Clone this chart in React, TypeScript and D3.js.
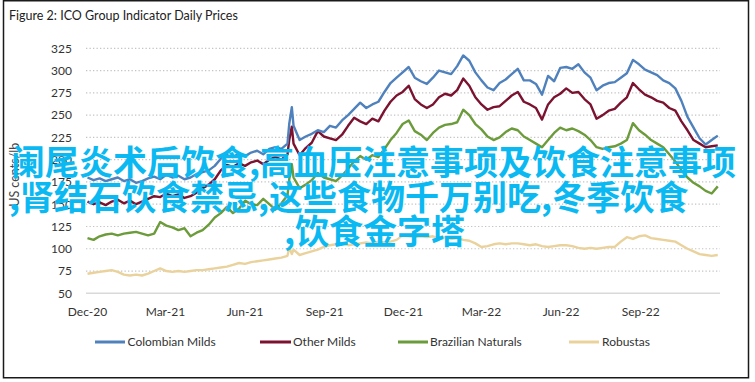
import React from "react";
import * as d3 from "d3";

const seriesNames = ["Colombian Milds", "Other Milds", "Brazilian Naturals", "Robustas"];
const seriesColors = ["#4F81BD", "#7A1230", "#6B9B3A", "#EAD29C"];

const startDate = "2020-12-01";
const weeksCount = 105;
const spikeDates = ["2021-07-22", "2021-07-25"];
const spikeAfterWeek = 33;

const colombianMilds = [
  180,177,179,176,178,180,176,178,174,176,179,181,178,183,180,182,178,180,184,186,
  188,193,201,205,203,207,204,208,210,206,212,214,212,218,
  240,259,
  238,222,226,229,233,231,238,236,244,250,
  257,264,258,262,265,276,286,292,298,304,
  292,288,285,292,300,298,296,305,317,311,
  298,289,281,278,286,290,296,302,289,289,
  285,273,294,288,303,304,302,307,298,292,
  278,283,286,287,292,297,312,307,301,298,
  295,289,286,280,266,248,236,224,217,222,227,
];
const otherMilds = [
  153,150,152,149,153,155,151,154,150,153,156,159,158,162,159,161,157,159,163,168,
  172,178,188,194,192,196,193,197,199,195,200,203,200,206,
  222,237,
  218,205,213,219,232,226,224,222,228,238,
  247,243,240,246,243,255,265,272,276,283,
  268,262,258,262,270,274,272,278,291,283,
  270,262,256,259,260,266,272,276,265,262,
  258,245,262,270,274,280,275,276,268,262,
  246,250,255,257,264,270,286,279,273,270,
  266,264,258,255,243,233,222,218,214,215,216,
];
const brazilianNaturals = [
  112,110,114,116,117,115,117,118,119,117,115,117,130,126,124,121,123,114,118,121,
  127,135,140,147,140,145,154,150,149,156,150,144,151,160,
  178,195,
  180,168,172,177,185,180,178,176,182,190,
  198,204,200,205,203,212,222,230,240,244,
  232,228,222,230,236,239,240,242,256,250,
  240,234,226,222,225,231,235,233,226,222,
  218,214,222,230,236,233,235,232,228,222,
  214,212,214,215,218,222,241,233,228,222,
  218,214,206,198,188,180,174,170,165,162,170,
];
const robustas = [
  72,73,74,75,76,74,71,70,71,70,72,75,78,75,74,75,74,75,76,76,
  77,78,79,80,82,84,83,85,86,87,88,89,90,92,
  102,94,
  99,93,95,97,99,102,104,105,106,104,
  105,106,107,106,108,107,108,110,115,114,
  113,114,113,114,112,113,111,112,110,109,
  106,102,103,105,106,105,106,106,105,104,
  105,103,102,103,104,104,103,101,100,101,
  100,101,102,102,108,113,111,114,115,112,
  111,110,109,108,104,100,97,94,93,92,93,
];

const yTicks = [50, 75, 100, 125, 150, 175, 200, 225, 250, 275, 300, 325];
const xTickDates = ["2020-12-01", "2021-03-01", "2021-06-01", "2021-09-01", "2021-12-01", "2022-03-01", "2022-06-01", "2022-09-01"];
const xDomain = ["2020-12-01", "2022-12-01"];

const titleText = "Figure 2: ICO Group Indicator Daily Prices";
const yAxisTitle = "US cents/lb";
const watermarkLines = [
  "阑尾炎术后饮食,高血压注意事项及饮食注意事项",
  ",肾结石饮食禁忌,这些食物千万别吃,冬季饮食",
  ",饮食金字塔",
];

const parse = d3.timeParse("%Y-%m-%d");

export default function App() {
  const W = 755, H = 382;
  const left = 87.5, right = 719.5, top = 48.3, bottom = 293.3;

  const start = parse(startDate)!;
  const weekly = d3.range(weeksCount).map((i) => d3.timeDay.offset(start, 7 * i));
  const dates = [
    ...weekly.slice(0, spikeAfterWeek + 1),
    ...spikeDates.map((s) => parse(s)!),
    ...weekly.slice(spikeAfterWeek + 1),
  ];

  const x = d3.scaleTime().domain(xDomain.map((s) => parse(s)!)).range([left, right]);
  const y = d3.scaleLinear().domain([50, 325]).range([bottom, top]);
  const fmt = d3.timeFormat("%b-%y");

  const allSeries = [colombianMilds, otherMilds, brazilianNaturals, robustas];
  const line = d3
    .line<number>()
    .x((_, i) => x(dates[i]))
    .y((d) => y(d))
    .curve(d3.curveLinear);

  const legendLayout = [
    { x1: 95, x2: 125, tx: 127.5 },
    { x1: 260, x2: 291, tx: 293 },
    { x1: 398, x2: 428, tx: 430 },
    { x1: 569, x2: 599, tx: 602 },
  ];
  const legendY = 342;
  const labelFont = "Lato, 'Open Sans', sans-serif";

  return (
    <svg
      width={W}
      height={H}
      style={{ position: "absolute", left: 0, top: 0, background: "#fff" }}
      fontFamily={labelFont}
    >
      <rect x={0} y={0} width={W} height={H} fill="#fff" />
      <rect x={3.5} y={0.75} width={745} height={377} fill="none" stroke="#1a1a1a" strokeWidth={1.5} />
      <text x={9} y={19.5} fontSize={12.5} fill="#222">{titleText}</text>

      {yTicks.map((t) => (
        <g key={t}>
          <line
            x1={left - 1.5}
            x2={right + 0.5}
            y1={y(t)}
            y2={y(t)}
            stroke={t === 50 ? "#D9D9D9" : "#C4C4C4"}
            strokeWidth={t === 50 ? 1.5 : 1.2}
            strokeDasharray={t === 50 ? undefined : "1.3,2.2"}
          />
          <text x={72} y={y(t)} dy="0.36em" textAnchor="end" fontSize={12} fill="#333">
            {t}
          </text>
        </g>
      ))}

      {xTickDates.map((s) => (
        <text key={s} x={x(parse(s)!)} y={316} textAnchor="middle" fontSize={12} fill="#333">
          {fmt(parse(s)!)}
        </text>
      ))}

      <text
        transform={`translate(19,${(top + bottom) / 2 + 4}) rotate(-90)`}
        textAnchor="middle"
        fontSize={12.5}
        fill="#444"
      >
        {yAxisTitle}
      </text>

      {allSeries.map((vals, si) => (
        <path
          key={seriesNames[si]}
          d={line(vals) || ""}
          fill="none"
          stroke={seriesColors[si]}
          strokeWidth={2.4}
          strokeLinejoin="round"
        />
      )).reverse()}

      {seriesNames.map((n, i) => (
        <g key={n}>
          <line
            x1={legendLayout[i].x1}
            x2={legendLayout[i].x2}
            y1={legendY}
            y2={legendY}
            stroke={seriesColors[i]}
            strokeWidth={3}
          />
          <text x={legendLayout[i].tx} y={legendY} dy="0.36em" fontSize={12} fill="#333">
            {n}
          </text>
        </g>
      ))}

      <g fontFamily="'Noto Sans CJK SC', sans-serif" fontWeight={700} fontSize={34} fill="#0BB9F2">
        <text x={11} y={174.5}>{watermarkLines[0]}</text>
        <text x={9} y={210}>{watermarkLines[1]}</text>
        <text x={284} y={244}>{watermarkLines[2]}</text>
      </g>
    </svg>
  );
}
